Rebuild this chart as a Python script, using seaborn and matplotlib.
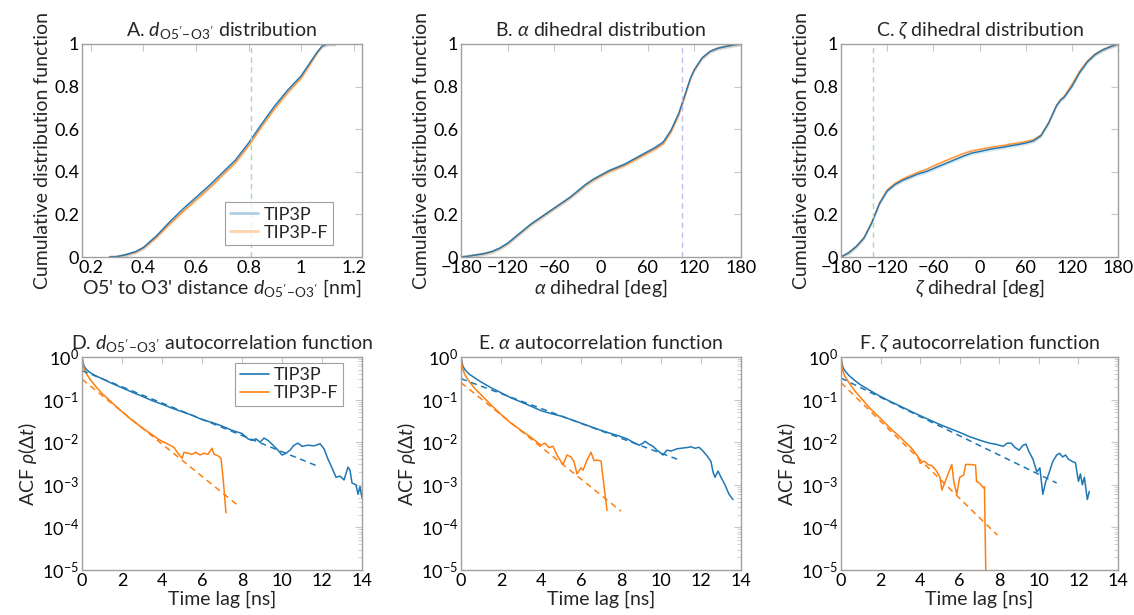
import numpy as np
import matplotlib
matplotlib.use("Agg")
import matplotlib.pyplot as plt
import matplotlib.ticker as mticker
from matplotlib.lines import Line2D
import seaborn as sns

sns.set_theme(style="white")
plt.rcParams['font.family'] = ['Lato', 'DejaVu Sans']
plt.rcParams['mathtext.fontset'] = 'custom'
plt.rcParams['mathtext.rm'] = 'Lato'
plt.rcParams['mathtext.it'] = 'Lato:italic'
plt.rcParams['mathtext.sf'] = 'Lato'
plt.rcParams['mathtext.bf'] = 'Lato:bold'
plt.rcParams['mathtext.fallback'] = 'cm'

BLUE = '#1f77b4'
ORANGE = '#ff7f0e'

# ---------------- CDF data ----------------
dist_x = [0.27, 0.30, 0.33, 0.37, 0.40, 0.45, 0.50, 0.55, 0.60, 0.65, 0.70, 0.75,
          0.80, 0.85, 0.90, 0.95, 1.00, 1.03, 1.06, 1.08, 1.10, 1.13]
dist_tip3p = [0.0, 0.002, 0.01, 0.025, 0.045, 0.10, 0.165, 0.225, 0.28, 0.335, 0.395, 0.455,
              0.535, 0.625, 0.71, 0.785, 0.85, 0.905, 0.96, 0.99, 1.0, 1.0]
dist_tip3pf = [0.0, 0.002, 0.009, 0.023, 0.042, 0.093, 0.155, 0.213, 0.268, 0.323, 0.383, 0.443,
               0.522, 0.612, 0.698, 0.773, 0.84, 0.897, 0.956, 0.99, 1.0, 1.0]
dist_ref = 0.81

ang_x = [-180, -170, -160, -150, -140, -130, -120, -110, -100, -90, -80, -70, -60, -50, -40,
         -30, -20, -10, 0, 10, 20, 30, 40, 50, 60, 70, 80, 90, 100, 105, 110, 115, 120,
         130, 140, 150, 160, 170, 180]
alpha_tip3p = [0.0, 0.004, 0.01, 0.016, 0.026, 0.042, 0.065, 0.095, 0.125, 0.155, 0.18, 0.205,
               0.23, 0.255, 0.28, 0.31, 0.34, 0.365, 0.385, 0.405, 0.42, 0.435, 0.455, 0.475,
               0.495, 0.515, 0.54, 0.595, 0.675, 0.73, 0.785, 0.84, 0.88, 0.935, 0.965, 0.98,
               0.988, 0.995, 1.0]
alpha_tip3pf = [0.0, 0.004, 0.01, 0.016, 0.025, 0.041, 0.063, 0.093, 0.123, 0.153, 0.178, 0.203,
                0.228, 0.253, 0.278, 0.307, 0.337, 0.361, 0.381, 0.4, 0.415, 0.43, 0.449, 0.469,
                0.489, 0.508, 0.532, 0.587, 0.667, 0.722, 0.778, 0.836, 0.877, 0.933, 0.964, 0.98,
                0.988, 0.995, 1.0]
alpha_ref = 104

zeta_tip3p = [0.0, 0.02, 0.05, 0.09, 0.16, 0.25, 0.31, 0.34, 0.36, 0.375, 0.39, 0.40, 0.415,
              0.43, 0.445, 0.46, 0.475, 0.488, 0.495, 0.503, 0.51, 0.515, 0.522, 0.528, 0.535,
              0.545, 0.57, 0.63, 0.71, 0.735, 0.75, 0.775, 0.80, 0.865, 0.915, 0.95, 0.972,
              0.987, 1.0]
zeta_tip3pf = [0.0, 0.02, 0.05, 0.092, 0.165, 0.255, 0.315, 0.345, 0.366, 0.382, 0.398, 0.41,
               0.427, 0.443, 0.458, 0.473, 0.487, 0.498, 0.505, 0.512, 0.518, 0.523, 0.53,
               0.535, 0.542, 0.55, 0.573, 0.632, 0.712, 0.738, 0.755, 0.782, 0.81, 0.872,
               0.92, 0.953, 0.973, 0.988, 1.0]
zeta_ref = -138

band = 0.009

# ---------------- ACF data ----------------
d_t_tip3p = [0, 0.05, 0.1, 0.2, 0.4, 0.7, 1.0, 1.5, 2.0, 2.5, 3.0, 3.5, 4.0, 4.5, 5.0, 5.5, 6.0,
             6.5, 7.0, 7.5, 8.0, 8.3, 8.5, 8.7, 8.9, 9.1, 9.3, 9.5, 9.8, 10.0, 10.2, 10.4, 10.6,
             10.8, 11.0, 11.3, 11.6, 11.9, 12.1, 12.3, 12.5, 12.7, 12.9, 13.1, 13.3, 13.4, 13.5,
             13.7, 13.8, 13.9, 14.0]
d_acf_tip3p = [1.0, 0.75, 0.62, 0.52, 0.43, 0.36, 0.31, 0.24, 0.19, 0.15, 0.12, 0.095, 0.078,
               0.063, 0.052, 0.043, 0.034, 0.029, 0.024, 0.019, 0.016, 0.012, 0.011, 0.012,
               0.010, 0.0125, 0.011, 0.009, 0.0065, 0.005, 0.0055, 0.0065, 0.0085, 0.0095,
               0.008, 0.0085, 0.0082, 0.0092, 0.007, 0.004, 0.0025, 0.0015, 0.0016, 0.0013,
               0.0026, 0.0022, 0.0011, 0.001, 0.0006, 0.0009, 0.0005]
d_t_tip3pf = [0, 0.05, 0.1, 0.2, 0.4, 0.7, 1.0, 1.5, 2.0, 2.5, 3.0, 3.5, 3.8, 4.0, 4.2, 4.4,
              4.6, 4.8, 5.0, 5.1, 5.3, 5.5, 5.7, 5.9, 6.1, 6.3, 6.5, 6.6, 6.8, 6.95, 7.05, 7.2]
d_acf_tip3pf = [1.0, 0.7, 0.55, 0.42, 0.3, 0.2, 0.14, 0.085, 0.052, 0.033, 0.022, 0.015, 0.012,
                0.0105, 0.0095, 0.0085, 0.0075, 0.0055, 0.0042, 0.0058, 0.0055, 0.0052, 0.0058,
                0.005, 0.0055, 0.0052, 0.0072, 0.0052, 0.0048, 0.0042, 0.0015, 0.00022]
d_fit_t_tip3p = [0.0, 11.9]
d_fit_tip3p = [0.48, 0.0026]
d_fit_t_tip3pf = [0.0, 7.9]
d_fit_tip3pf = [0.30, 0.0003]

a_t_tip3p = [0, 0.05, 0.1, 0.2, 0.4, 0.7, 1.0, 1.5, 2.0, 2.5, 3.0, 3.5, 4.0, 4.5, 5.0, 5.5, 6.0,
             6.5, 7.0, 7.5, 7.8, 8.0, 8.3, 8.6, 8.9, 9.1, 9.2, 9.4, 9.6, 9.8, 10.0, 10.1, 10.3,
             10.5, 10.8, 11.0, 11.3, 11.5, 11.7, 11.9, 12.1, 12.3, 12.5, 12.6, 12.7, 12.85, 13.0,
             13.2, 13.4, 13.6]
a_acf_tip3p = [1.0, 0.75, 0.6, 0.5, 0.4, 0.32, 0.26, 0.19, 0.145, 0.11, 0.088, 0.07, 0.055,
               0.047, 0.041, 0.034, 0.028, 0.023, 0.019, 0.016, 0.0145, 0.0135, 0.012, 0.01,
               0.0085, 0.0095, 0.0105, 0.009, 0.008, 0.0065, 0.0055, 0.005, 0.0065, 0.0062,
               0.007, 0.0072, 0.0075, 0.0078, 0.0072, 0.0076, 0.0062, 0.0048, 0.0035, 0.002,
               0.0015, 0.0021, 0.0015, 0.001, 0.0006, 0.00045]
a_t_tip3pf = [0, 0.05, 0.1, 0.2, 0.4, 0.7, 1.0, 1.5, 2.0, 2.5, 3.0, 3.5, 4.0, 4.2, 4.4, 4.6,
              4.8, 5.0, 5.1, 5.3, 5.5, 5.65, 5.8, 6.0, 6.1, 6.3, 6.5, 6.65, 6.8, 7.0, 7.3]
a_acf_tip3pf = [1.0, 0.65, 0.5, 0.38, 0.27, 0.18, 0.13, 0.075, 0.045, 0.028, 0.019, 0.013,
                0.0085, 0.0095, 0.0075, 0.008, 0.005, 0.0035, 0.003, 0.005, 0.0045, 0.0035,
                0.0018, 0.0025, 0.0022, 0.0038, 0.0058, 0.0037, 0.0038, 0.0036, 0.00025]
a_fit_t_tip3p = [0.0, 11.0]
a_fit_tip3p = [0.31, 0.0037]
a_fit_t_tip3pf = [0.0, 8.0]
a_fit_tip3pf = [0.25, 0.00024]

z_t_tip3p = [0, 0.05, 0.1, 0.2, 0.4, 0.7, 1.0, 1.5, 2.0, 2.5, 3.0, 3.5, 4.0, 4.5, 5.0, 5.5, 6.0,
             6.5, 7.0, 7.5, 7.8, 8.0, 8.2, 8.4, 8.6, 8.8, 9.0, 9.2, 9.35, 9.5, 9.7, 9.9, 10.05,
             10.2, 10.35, 10.5, 10.7, 10.9, 11.05, 11.2, 11.35, 11.5, 11.7, 11.85, 12.0, 12.1,
             12.2, 12.3, 12.45, 12.55]
z_acf_tip3p = [1.0, 0.72, 0.57, 0.47, 0.37, 0.28, 0.22, 0.16, 0.118, 0.09, 0.07, 0.054, 0.042,
               0.033, 0.026, 0.021, 0.017, 0.0135, 0.0112, 0.0095, 0.009, 0.0085, 0.008, 0.0095,
               0.0095, 0.0075, 0.0065, 0.0085, 0.009, 0.006, 0.004, 0.002, 0.0025, 0.0006,
               0.0012, 0.0018, 0.0035, 0.005, 0.0055, 0.0045, 0.005, 0.004, 0.0035, 0.0033,
               0.0012, 0.0018, 0.001, 0.0015, 0.00045, 0.0007]
z_t_tip3pf = [0, 0.05, 0.1, 0.2, 0.4, 0.7, 1.0, 1.5, 2.0, 2.5, 3.0, 3.3, 3.5, 3.7, 3.9, 4.0,
              4.2, 4.4, 4.6, 4.8, 5.0, 5.1, 5.3, 5.45, 5.6, 5.7, 5.85, 6.0, 6.2, 6.3, 6.5, 6.8,
              6.85, 7.0, 7.2, 7.25, 7.33]
z_acf_tip3pf = [1.0, 0.6, 0.45, 0.35, 0.25, 0.16, 0.11, 0.06, 0.036, 0.021, 0.013, 0.0095,
                0.0078, 0.006, 0.0045, 0.0032, 0.0036, 0.003, 0.0028, 0.0022, 0.0015, 0.00075,
                0.0013, 0.002, 0.003, 0.0012, 0.0006, 0.0015, 0.0017, 0.003, 0.003, 0.0029,
                0.0012, 0.0011, 0.00085, 0.0009, 0.000004]
z_fit_t_tip3p = [0.0, 10.9]
z_fit_tip3p = [0.32, 0.0011]
z_fit_t_tip3pf = [0.0, 7.9]
z_fit_tip3pf = [0.25, 0.000066]

# ---------------- figure ----------------
fig, axes = plt.subplots(2, 3, figsize=(11.34, 6.15), dpi=100)
W, H = 1134, 615
lefts = [82, 461, 841]
widths = [280, 280, 277]
tops = [44, 357]
height = 213
for r in range(2):
    for c in range(3):
        axes[r, c].set_position([lefts[c] / W, (H - tops[r] - height) / H,
                                 widths[c] / W, height / H])

FS = 14
TFS = 13
FRAME = '#a0a0a0'
TICKC = '#c8c8c8'


def style(ax):
    for s in ax.spines.values():
        s.set_color(FRAME)
        s.set_linewidth(1.0)
    ax.tick_params(which='both', direction='in', top=True, right=True, color=TICKC,
                   labelsize=TFS, pad=2, labelcolor='black')
    ax.tick_params(which='major', length=5, width=0.8)
    ax.tick_params(which='minor', length=3, width=0.6)
    ax.set_facecolor('white')


def cdf_panel(ax, x, y1, y2, ref, refcolor, xlim, xticks, xlabel, title, legend=False):
    y1 = np.asarray(y1)
    y2 = np.asarray(y2)
    ax.fill_between(x, np.clip(y2 - band, 0, 1), np.clip(y2 + band, 0, 1), color=ORANGE,
                    alpha=0.18, lw=0)
    ax.fill_between(x, np.clip(y1 - band, 0, 1), np.clip(y1 + band, 0, 1), color=BLUE,
                    alpha=0.18, lw=0)
    sns.lineplot(x=x, y=y2, ax=ax, color=ORANGE, lw=1.0, alpha=0.8, label='TIP3P-F')
    sns.lineplot(x=x, y=y1, ax=ax, color=BLUE, lw=1.0, label='TIP3P')
    ax.axvline(ref, color=refcolor, ls=(0, (4, 3)), lw=1.0)
    ax.set_xlim(*xlim)
    ax.set_ylim(0, 1)
    ax.set_xticks(xticks)
    ax.set_yticks([0, 0.2, 0.4, 0.6, 0.8, 1.0])
    ax.xaxis.set_major_formatter(mticker.FuncFormatter(
        lambda v, p: ('\u2212' + f'{-v:g}') if v < 0 else f'{v:g}'))
    ax.yaxis.set_major_formatter(mticker.FuncFormatter(lambda v, p: f'{v:g}'))
    ax.set_xlabel(xlabel, fontsize=FS, labelpad=1)
    ax.set_ylabel('Cumulative distribution function', fontsize=FS, labelpad=2)
    ax.set_title(title, fontsize=FS, pad=6)
    style(ax)
    lg = ax.get_legend()
    if lg:
        lg.remove()
    if legend:
        handles = [Line2D([], [], color=BLUE, lw=2, alpha=0.35),
                   Line2D([], [], color=ORANGE, lw=2, alpha=0.35)]
        leg = ax.legend(handles, ['TIP3P', 'TIP3P-F'], loc='lower right',
                        bbox_to_anchor=(0.896, 0.056), fontsize=FS - 1, frameon=True,
                        fancybox=False, handlelength=1.6, handletextpad=0.3,
                        borderpad=0.25, labelspacing=0.1, borderaxespad=0)
        leg.get_frame().set_edgecolor('#888888')
        leg.get_frame().set_linewidth(0.8)


def acf_panel(ax, t1, a1, t2, a2, ft1, f1, ft2, f2, title, legend=False):
    sns.lineplot(x=t1, y=a1, ax=ax, color=BLUE, lw=1.1, label='TIP3P')
    sns.lineplot(x=t2, y=a2, ax=ax, color=ORANGE, lw=1.1, label='TIP3P-F')
    sns.lineplot(x=ft1, y=f1, ax=ax, color=BLUE, lw=1.1, ls=(0, (4, 3)))
    sns.lineplot(x=ft2, y=f2, ax=ax, color=ORANGE, lw=1.1, ls=(0, (4, 3)))
    ax.set_yscale('log')
    ax.set_ylim(1e-5, 1)
    ax.set_xlim(0, 14)
    ax.set_xticks([0, 2, 4, 6, 8, 10, 12, 14])
    ax.set_yticks([1e-5, 1e-4, 1e-3, 1e-2, 1e-1, 1])
    ax.yaxis.set_minor_locator(mticker.LogLocator(base=10, subs=np.arange(2, 10), numticks=20))
    ax.yaxis.set_minor_formatter(mticker.NullFormatter())
    ax.set_xlabel('Time lag [ns]', fontsize=FS, labelpad=1)
    ax.set_ylabel(r'ACF $\rho(\Delta t)$', fontsize=FS, labelpad=2)
    ax.set_title(title, fontsize=FS, pad=6)
    style(ax)
    lg = ax.get_legend()
    if lg:
        lg.remove()
    if legend:
        handles = [Line2D([], [], color=BLUE, lw=1.2), Line2D([], [], color=ORANGE, lw=1.2)]
        leg = ax.legend(handles, ['TIP3P', 'TIP3P-F'], loc='upper right',
                        bbox_to_anchor=(0.932, 0.972), fontsize=FS - 1, frameon=True,
                        fancybox=False, handlelength=1.6, handletextpad=0.3,
                        borderpad=0.25, labelspacing=0.1, borderaxespad=0)
        leg.get_frame().set_edgecolor('#888888')
        leg.get_frame().set_linewidth(0.8)


dlab = r"d_{\mathrm{O5^{\prime}\!-\!O3^{\prime}}}"
cdf_panel(axes[0, 0], dist_x, dist_tip3p, dist_tip3pf, dist_ref, '#a6dca6', (0.166, 1.232),
          [0.2, 0.4, 0.6, 0.8, 1.0, 1.2],
          "O5' to O3' distance $" + dlab + "$ [nm]", "A. $" + dlab + "$ distribution",
          legend=True)
cdf_panel(axes[0, 1], ang_x, alpha_tip3p, alpha_tip3pf, alpha_ref, '#bfbfee', (-180, 180),
          [-180, -120, -60, 0, 60, 120, 180],
          r"$\alpha$ dihedral [deg]", r"B. $\alpha$ dihedral distribution")
cdf_panel(axes[0, 2], ang_x, zeta_tip3p, zeta_tip3pf, zeta_ref, '#a6dca6', (-180, 180),
          [-180, -120, -60, 0, 60, 120, 180],
          r"$\zeta$ dihedral [deg]", r"C. $\zeta$ dihedral distribution")

acf_panel(axes[1, 0], d_t_tip3p, d_acf_tip3p, d_t_tip3pf, d_acf_tip3pf,
          d_fit_t_tip3p, d_fit_tip3p, d_fit_t_tip3pf, d_fit_tip3pf,
          "D. $" + dlab + "$ autocorrelation function", legend=True)
acf_panel(axes[1, 1], a_t_tip3p, a_acf_tip3p, a_t_tip3pf, a_acf_tip3pf,
          a_fit_t_tip3p, a_fit_tip3p, a_fit_t_tip3pf, a_fit_tip3pf,
          r"E. $\alpha$ autocorrelation function")
acf_panel(axes[1, 2], z_t_tip3p, z_acf_tip3p, z_t_tip3pf, z_acf_tip3pf,
          z_fit_t_tip3p, z_fit_tip3p, z_fit_t_tip3pf, z_fit_tip3pf,
          r"F. $\zeta$ autocorrelation function")

fig.savefig('out.png', dpi=100, facecolor='white')
